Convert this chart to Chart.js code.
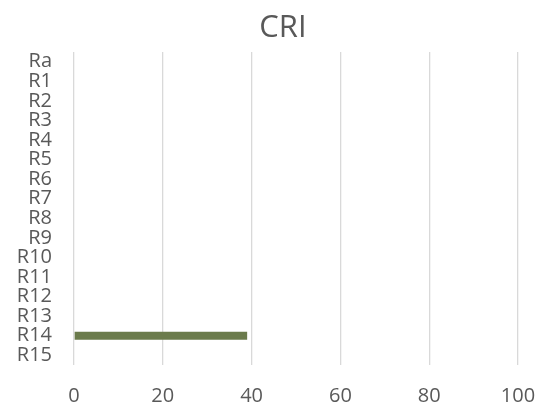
<!DOCTYPE html>
<html>
<head>
<meta charset="utf-8">
<script src="https://cdn.jsdelivr.net/npm/chart.js@4"></script>
<style>
html,body{margin:0;padding:0;background:#fff;}
#wrap{width:545px;height:408px;}
</style>
</head>
<body>
<div id="wrap"><canvas id="c" width="545" height="408"></canvas></div>
<script>
const categories = ['Ra','R1','R2','R3','R4','R5','R6','R7','R8','R9','R10','R11','R12','R13','R14','R15'];
const criValues = [0,0,0,0,0,0,0,0,0,0,0,0,0,0,39,0];
const xMin = 0, xMax = 100, xStep = 20;

const textColor = '#595959';
const fontFamily = '"Open Sans", Calibri, sans-serif';

const shiftTitle = {
  id: 'shiftTitle',
  afterLayout(chart) {
    if (chart.titleBlock) {
      chart.titleBlock.left += 16;
      chart.titleBlock.right += 16;
    }
  }
};

new Chart(document.getElementById('c'), {
  type: 'bar',
  data: {
    labels: categories,
    datasets: [{
      label: 'CRI',
      data: criValues,
      backgroundColor: '#6B7B4C',
      borderWidth: 0,
      barPercentage: 0.41,
      categoryPercentage: 1.0
    }]
  },
  plugins: [shiftTitle],
  options: {
    indexAxis: 'y',
    responsive: false,
    animation: false,
    devicePixelRatio: 1,
    layout: { padding: { left: 16, right: 27, top: 0, bottom: 0 } },
    plugins: {
      legend: { display: false },
      tooltip: { enabled: false },
      title: {
        display: true,
        text: 'CRI',
        color: textColor,
        font: { family: fontFamily, size: 31, weight: 'normal' },
        padding: { top: 10, bottom: 4.8 }
      }
    },
    scales: {
      x: {
        min: xMin, max: xMax,
        ticks: { stepSize: xStep, color: textColor, padding: 19, font: { family: fontFamily, size: 20 } },
        grid: { color: '#d9d9d9', lineWidth: 1.3, drawTicks: false },
        border: { display: false },
        afterFit: function(scale) { scale.height = 43; scale.paddingLeft = 0; scale.paddingRight = 0; }
      },
      y: {
        ticks: { autoSkip: false, color: textColor, padding: 22, font: { family: fontFamily, size: 20 } },
        grid: { display: false, drawTicks: false },
        border: { display: false },
        afterFit: function(scale) { scale.width = 58; scale.paddingTop = 0; scale.paddingBottom = 0; }
      }
    }
  }
});
</script>
</body>
</html>
